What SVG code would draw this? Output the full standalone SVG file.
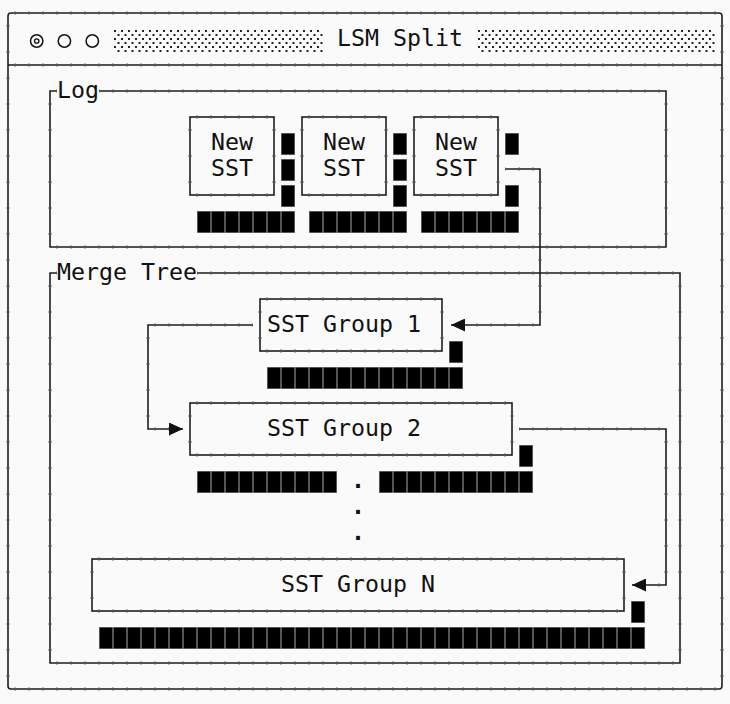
<svg xmlns="http://www.w3.org/2000/svg" width="730" height="704" viewBox="0 0 730 704">
<style>
  .ln{fill:none;stroke:#1e1e1e;stroke-width:1.6;stroke-linejoin:miter}
  .tk{fill:none;stroke:url(#tick);stroke-width:3.6}
  .t{font-family:"DejaVu Sans Mono","Liberation Mono",monospace;font-size:23.25px;fill:#111}
  .dot{font-weight:bold}
  .blk{fill:url(#blk)}
  .hatch{fill:url(#hatch)}
  .cn{fill:none;stroke:#1e1e1e;stroke-width:1.6;marker-end:url(#arr)}
</style>
<defs>
  <pattern id="blk" patternUnits="userSpaceOnUse" x="1" y="0" width="14" height="26">
    <rect x="0" y="3" width="14" height="22" fill="#8c8c8c"/>
    <rect x="0.6" y="3.6" width="12.8" height="20.8" fill="#000"/>
  </pattern>
  <pattern id="hatch" patternUnits="userSpaceOnUse" x="113" y="29" width="7" height="8">
    <rect x="1" y="1" width="2" height="2" fill="#222"/>
    <rect x="4.5" y="5" width="2" height="2" fill="#222"/>
  </pattern>
  <pattern id="tick" patternUnits="userSpaceOnUse" x="0.5" y="-0.5" width="14" height="26">
    <rect x="0" y="0" width="1" height="26" fill="#555"/>
    <rect x="0" y="0" width="14" height="1" fill="#555"/>
  </pattern>
  <marker id="arr" markerUnits="userSpaceOnUse" markerWidth="14" markerHeight="13" refX="14" refY="6.5" orient="auto">
    <path d="M0,0 L14,6.5 L0,13 Z" fill="#111"/>
  </marker>
</defs>
<rect x="0" y="0" width="730" height="704" fill="#fafafa"/>

<g id="window">
  <rect class="ln" x="8" y="13" width="714" height="676" rx="3"/>
  <rect class="tk" x="8" y="13" width="714" height="676" rx="3"/>
  <path class="ln" d="M8,65 H722"/>
  <path class="tk" d="M8,65 H722"/>
  <circle cx="36.7" cy="41" r="6.2" fill="none" stroke="#111" stroke-width="1.5"/>
  <circle cx="36.7" cy="41" r="2.2" fill="none" stroke="#111" stroke-width="1.3"/>
  <circle cx="64.4" cy="41" r="6.2" fill="none" stroke="#111" stroke-width="1.5"/>
  <circle cx="92.3" cy="41" r="6.2" fill="none" stroke="#111" stroke-width="1.5"/>
  <rect class="hatch" x="113" y="29" width="210" height="23"/>
  <rect class="hatch" x="477" y="29" width="238" height="23"/>
  <text class="t" x="337" y="46">LSM Split</text>
</g>

<g id="log">
  <path class="ln" d="M57,91 H50 V247 H666 V91 H99"/>
  <path class="tk" d="M57,91 H50 V247 H666 V91 H99"/>
  <text class="t" x="57" y="98">Log</text>
</g>

<g id="new-sst-1">
  <rect class="ln" x="190" y="117" width="84" height="78"/>
  <rect class="tk" x="190" y="117" width="84" height="78"/>
  <text class="t" x="211" y="150">New</text>
  <text class="t" x="211" y="176">SST</text>
  <rect class="blk" x="281" y="130" width="14" height="78"/>
  <rect class="blk" x="197" y="208" width="98" height="26"/>
</g>

<g id="new-sst-2">
  <rect class="ln" x="302" y="117" width="84" height="78"/>
  <rect class="tk" x="302" y="117" width="84" height="78"/>
  <text class="t" x="323" y="150">New</text>
  <text class="t" x="323" y="176">SST</text>
  <rect class="blk" x="393" y="130" width="14" height="78"/>
  <rect class="blk" x="309" y="208" width="98" height="26"/>
</g>

<g id="new-sst-3">
  <rect class="ln" x="414" y="117" width="84" height="78"/>
  <rect class="tk" x="414" y="117" width="84" height="78"/>
  <text class="t" x="435" y="150">New</text>
  <text class="t" x="435" y="176">SST</text>
  <rect class="blk" x="505" y="130" width="14" height="26"/>
  <rect class="blk" x="505" y="182" width="14" height="26"/>
  <rect class="blk" x="421" y="208" width="98" height="26"/>
</g>

<g id="merge-tree">
  <path class="ln" d="M57,273 H50 V663 H680 V273 H197"/>
  <path class="tk" d="M57,273 H50 V663 H680 V273 H197"/>
  <text class="t" x="57" y="280">Merge Tree</text>
</g>

<g id="sst-group-1">
  <rect class="ln" x="260" y="299" width="182" height="52"/>
  <rect class="tk" x="260" y="299" width="182" height="52"/>
  <text class="t" x="267" y="332">SST Group 1</text>
  <rect class="blk" x="449" y="338" width="14" height="26"/>
  <rect class="blk" x="267" y="364" width="196" height="26"/>
</g>

<g id="sst-group-2">
  <rect class="ln" x="190" y="403" width="322" height="52"/>
  <rect class="tk" x="190" y="403" width="322" height="52"/>
  <text class="t" x="267" y="436">SST Group 2</text>
  <rect class="blk" x="519" y="442" width="14" height="26"/>
  <rect class="blk" x="197" y="468" width="140" height="26"/>
  <rect class="blk" x="379" y="468" width="154" height="26"/>
</g>

<g id="ellipsis">
  <text class="t dot" x="351" y="488">.</text>
  <text class="t dot" x="351" y="514">.</text>
  <text class="t dot" x="351" y="540">.</text>
</g>

<g id="sst-group-n">
  <rect class="ln" x="92" y="559" width="532" height="52"/>
  <rect class="tk" x="92" y="559" width="532" height="52"/>
  <text class="t" x="281" y="592">SST Group N</text>
  <rect class="blk" x="631" y="598" width="14" height="26"/>
  <rect class="blk" x="99" y="624" width="546" height="26"/>
</g>

<g id="connectors">
  <path class="cn" d="M505,169 H540 V325 H451"/>
  <path class="tk" d="M505,169 H540 V325 H465"/>
  <path class="cn" d="M253,325 H148 V429 H183"/>
  <path class="tk" d="M253,325 H148 V429 H169"/>
  <path class="cn" d="M519,429 H666 V585 H632"/>
  <path class="tk" d="M519,429 H666 V585 H646"/>
</g>
</svg>
